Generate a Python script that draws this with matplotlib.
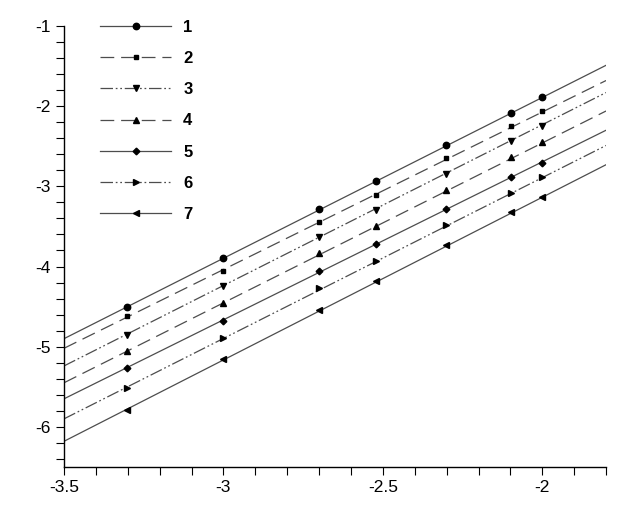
import matplotlib.pyplot as plt
from matplotlib.lines import Line2D
from matplotlib.ticker import MultipleLocator

plt.rcParams['font.family'] = ['Liberation Sans', 'DejaVu Sans']

# measured points (x = log of concentration)
x_pts = [-3.301, -3.0, -2.699, -2.523, -2.301, -2.097, -2.0]
y_pts = {
    '1': [-4.51, -3.89, -3.28, -2.93, -2.49, -2.08, -1.89],
    '2': [-4.62, -4.05, -3.45, -3.11, -2.65, -2.25, -2.06],
    '3': [-4.85, -4.24, -3.63, -3.29, -2.84, -2.43, -2.25],
    '4': [-5.05, -4.45, -3.83, -3.49, -3.05, -2.63, -2.45],
    '5': [-5.27, -4.68, -4.05, -3.72, -3.28, -2.88, -2.71],
    '6': [-5.51, -4.89, -4.27, -3.93, -3.48, -3.08, -2.88],
    '7': [-5.79, -5.15, -4.54, -4.18, -3.73, -3.32, -3.13],
}

# fitted lines, value at both ends of the x range
x_fit = [-3.5, -1.8]
y_fit = {
    '1': [-4.90, -1.49],
    '2': [-5.02, -1.68],
    '3': [-5.24, -1.83],
    '4': [-5.45, -2.06],
    '5': [-5.65, -2.30],
    '6': [-5.90, -2.49],
    '7': [-6.18, -2.73],
}

dash = (11, 5.5)
dashdotdot = (10, 2.2, 1.4, 2.2, 1.4, 2.2)
styles = {
    '1': ('o', 4.6, '-'),
    '2': ('s', 3.3, (0, dash)),
    '3': ('v', 4.0, (0, dashdotdot)),
    '4': ('^', 4.0, (0, dash)),
    '5': ('D', 3.4, '-'),
    '6': ('>', 4.0, (0, dashdotdot)),
    '7': ('<', 4.0, '-'),
}

fig = plt.figure(figsize=(6.4, 5.2), dpi=100)
ax = fig.add_axes([0.1, 0.102, 0.847, 0.848])

line_col = '0.3'
handles = []
for name in y_pts:
    m, ms, ls = styles[name]
    ax.plot(x_fit, y_fit[name], color=line_col, lw=0.9, linestyle=ls)
    ax.plot(x_pts, y_pts[name], linestyle='none', marker=m, ms=ms,
            color='black')
    handles.append(Line2D([], [], color=line_col, lw=0.9, linestyle=ls,
                          marker=m, ms=ms, mfc='black', mec='black'))

ax.set_xlim(-3.5, -1.8)
ax.set_ylim(-6.5, -1)
ax.xaxis.set_major_locator(MultipleLocator(0.5))
ax.xaxis.set_minor_locator(MultipleLocator(0.1))
ax.yaxis.set_major_locator(MultipleLocator(1))
ax.yaxis.set_minor_locator(MultipleLocator(0.2))
ax.set_xticks([-3.5, -3, -2.5, -2])
ax.set_xticklabels(['-3.5', '-3', '-2.5', '-2'])
ax.set_yticks([-6, -5, -4, -3, -2, -1])
ax.set_yticklabels(['-6', '-5', '-4', '-3', '-2', '-1'])

for s in ['top', 'right']:
    ax.spines[s].set_visible(False)
for s in ['left', 'bottom']:
    ax.spines[s].set_linewidth(1.0)
ax.tick_params(which='both', direction='out', length=5.5, width=0.8,
               labelsize=12.5, pad=4)

leg = ax.legend(handles, list(y_pts.keys()), loc='upper left',
                bbox_to_anchor=(0.039, 1.048), frameon=False, numpoints=1,
                handlelength=4.26, handletextpad=0.72, labelspacing=0.97,
                prop={'weight': 'bold', 'size': 12})

fig.savefig('out.png', dpi=100)
